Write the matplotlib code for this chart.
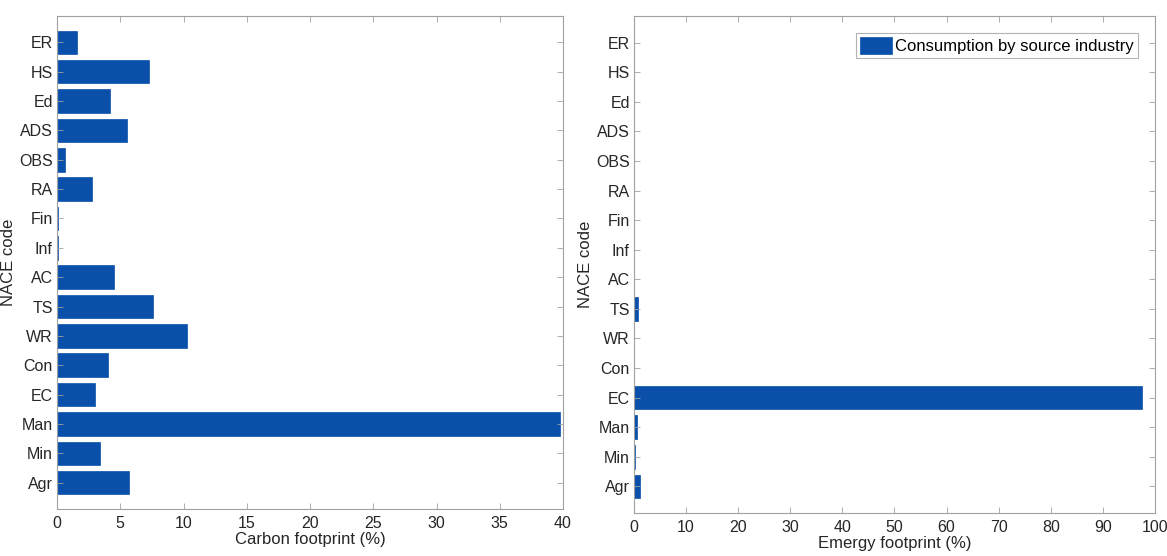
import numpy as np
import matplotlib.pyplot as plt

plt.rcParams["font.family"] = ["Liberation Sans", "DejaVu Sans"]

# NACE codes, bottom to top
codes = ["Agr", "Min", "Man", "EC", "Con", "WR", "TS", "AC",
         "Inf", "Fin", "RA", "OBS", "ADS", "Ed", "HS", "ER"]

carbon = [5.7, 3.4, 39.8, 3.0, 4.0, 10.3, 7.6, 4.5,
          0.1, 0.05, 2.8, 0.6, 5.5, 4.2, 7.3, 1.6]

emergy = [1.1, 0.1, 0.6, 97.6, 0.0, 0.0, 0.8, 0.0,
          0.0, 0.0, 0.0, 0.0, 0.0, 0.0, 0.0, 0.0]

carbon_ticks = [0, 5, 10, 15, 20, 25, 30, 35, 40]
emergy_ticks = [0, 10, 20, 30, 40, 50, 60, 70, 80, 90, 100]

BAR = "#0A50AA"
GRAY = "#a0a0a0"
TXT = "#262626"

W, H = 1167, 556
fig = plt.figure(figsize=(W / 100, H / 100), dpi=100)

ax1 = fig.add_axes([57 / W, 1 - 509 / H, (563 - 57) / W, (509 - 16) / H])
ax2 = fig.add_axes([634 / W, 1 - 513 / H, (1155 - 634) / W, (513 - 16) / H])

y = np.arange(1, len(codes) + 1)


def style(ax, ticks, xmax, xlabel):
    ax.set_xlim(0, xmax)
    ax.set_ylim(0.1, len(codes) + 0.9)
    ax.set_xticks(ticks)
    ax.set_yticks(y)
    ax.set_yticklabels(codes)
    ax.set_xlabel(xlabel, fontsize=12, color=TXT, labelpad=1)
    ax.set_ylabel("NACE code", fontsize=12, color=TXT, labelpad=2)
    ax.tick_params(direction="in", length=4, width=0.6, color=GRAY,
                   labelsize=11.5, labelcolor=TXT, top=True, right=True, pad=3)
    ax.tick_params(axis="x", pad=5)
    for s in ax.spines.values():
        s.set_color(GRAY)
        s.set_linewidth(0.8)


ax1.barh(y, carbon, height=0.8, color=BAR, edgecolor=BAR, linewidth=0.5)
style(ax1, carbon_ticks, 40, "Carbon footprint (%)")

ax2.barh(y, emergy, height=0.8, color=BAR, edgecolor=BAR, linewidth=0.5,
         label="Consumption by source industry")
style(ax2, emergy_ticks, 100, "Emergy footprint (%)")
leg = ax2.legend(loc="upper right", fontsize=12, frameon=True, fancybox=False,
                 handlelength=1.9, handleheight=1.2, handletextpad=0.2,
                 borderpad=0.25, borderaxespad=1.0)
leg.get_frame().set_edgecolor(GRAY)
leg.get_frame().set_linewidth(0.8)

fig.savefig("out.png", dpi=100)
